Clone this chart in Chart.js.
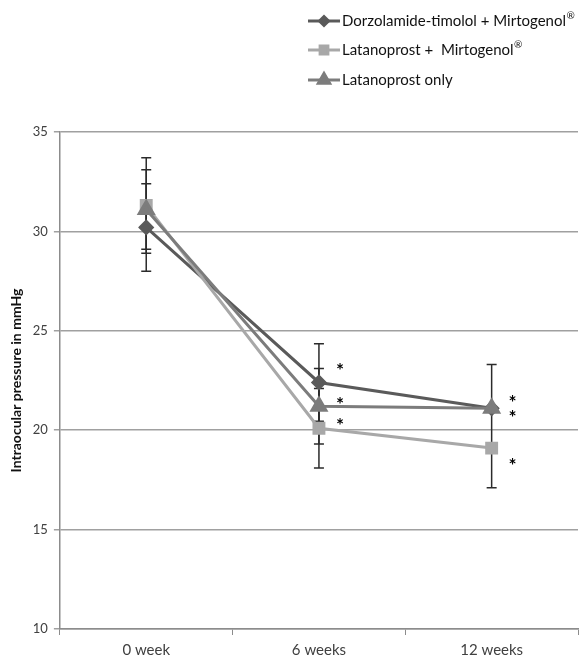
<!DOCTYPE html>
<html>
<head>
<meta charset="utf-8">
<script src="https://cdn.jsdelivr.net/npm/chart.js@4"></script>
<style>
  html, body { margin: 0; padding: 0; background: #fff; overflow: hidden; }
  canvas { display: block; }
</style>
</head>
<body>
<canvas id="iop-chart" width="579" height="655"></canvas>
<script>
// Data
const weeks = ['0 week', '6 weeks', '12 weeks'];

const dorzMean = [30.2, 22.4, 21.1];
const dorzErrUp = [2.2, 1.95, 2.2];
const dorzErrDown = [2.2, 1.95, null];

const latMirtMean = [31.3, 20.1, 19.1];
const latMirtErrUp = [2.4, 2.0, 2.0];
const latMirtErrDown = [2.4, 2.0, 2.0];

const latOnlyMean = [31.1, 21.2, 21.1];
const latOnlyErrUp = [2.0, 1.9, null];
const latOnlyErrDown = [2.0, 1.9, null];

// where the significance asterisks sit (value units), null = none
const dorzStar = [null, 23.2, 21.6];
const latMirtStar = [null, 20.4, 18.4];
const latOnlyStar = [null, 21.5, 20.8];

const yMin = 10, yMax = 35, yStep = 5;

const FONT = 'Lato, "Open Sans", sans-serif';

// Error bars drawn under the lines
const errorBarPlugin = {
  id: 'errorBars',
  beforeDatasetsDraw(chart) {
    const ctx = chart.ctx;
    const x = chart.scales.x, y = chart.scales.y;
    ctx.save();
    ctx.strokeStyle = '#2b2b2b';
    ctx.lineWidth = 1.5;
    chart.data.datasets.forEach(ds => {
      ds.data.forEach((v, i) => {
        const px = x.getPixelForValue(i);
        const ends = [ds.errUp[i] != null ? v + ds.errUp[i] : null,
                      ds.errDown[i] != null ? v - ds.errDown[i] : null];
        ends.forEach(end => {
          if (end == null) return;
          const py = y.getPixelForValue(end);
          ctx.beginPath();
          ctx.moveTo(px, y.getPixelForValue(v));
          ctx.lineTo(px, py);
          ctx.moveTo(px - 5, py);
          ctx.lineTo(px + 5, py);
          ctx.stroke();
        });
      });
    });
    ctx.restore();
  }
};

// Asterisks next to the points
const starPlugin = {
  id: 'stars',
  afterDatasetsDraw(chart) {
    const ctx = chart.ctx;
    const x = chart.scales.x, y = chart.scales.y;
    ctx.save();
    ctx.fillStyle = '#000';
    ctx.font = 'bold 19px ' + FONT;
    ctx.textAlign = 'center';
    ctx.textBaseline = 'middle';
    chart.data.datasets.forEach(ds => {
      ds.stars.forEach((s, i) => {
        if (s == null) return;
        ctx.fillText('*', x.getPixelForValue(i) + 21, y.getPixelForValue(s) + 4);
      });
    });
    ctx.restore();
  }
};

// Legend stacked in the top right corner, ® drawn as superscript
const legendPlugin = {
  id: 'stackedLegend',
  afterDraw(chart) {
    const ctx = chart.ctx;
    const lx = 308, rowY = [21, 50, 80];
    ctx.save();
    chart.data.datasets.forEach((ds, i) => {
      const yy = rowY[i];
      ctx.strokeStyle = ds.borderColor;
      ctx.lineWidth = 3;
      ctx.beginPath();
      ctx.moveTo(lx, yy);
      ctx.lineTo(lx + 32, yy);
      ctx.stroke();
      ctx.fillStyle = ds.borderColor;
      Chart.helpers.drawPoint(ctx, {
        pointStyle: ds.pointStyle,
        radius: ds.pointRadius - 1.5,
        rotation: 0,
        borderWidth: 1
      }, lx + 16, yy);

      ctx.fillStyle = '#111';
      ctx.textAlign = 'left';
      ctx.textBaseline = 'middle';
      const parts = ds.label.split('®');
      let tx = lx + 34;
      parts.forEach((p, k) => {
        ctx.font = '15px ' + FONT;
        ctx.fillText(p, tx, yy);
        tx += ctx.measureText(p).width;
        if (k < parts.length - 1) {
          ctx.font = '10px ' + FONT;
          ctx.fillText('®', tx + 0.5, yy - 5);
          tx += ctx.measureText('®').width + 1;
        }
      });
    });
    ctx.restore();
  }
};

new Chart(document.getElementById('iop-chart'), {
  type: 'line',
  data: {
    labels: weeks,
    datasets: [
      {
        label: 'Dorzolamide-timolol + Mirtogenol®',
        data: dorzMean, errUp: dorzErrUp, errDown: dorzErrDown, stars: dorzStar,
        borderColor: '#5a5a5a', backgroundColor: '#5a5a5a',
        pointStyle: 'rectRot', pointRadius: 6, borderWidth: 3,
        order: 2
      },
      {
        label: 'Latanoprost +  Mirtogenol®',
        data: latMirtMean, errUp: latMirtErrUp, errDown: latMirtErrDown, stars: latMirtStar,
        borderColor: '#a8a8a8', backgroundColor: '#a8a8a8',
        pointStyle: 'rect', pointRadius: 7, borderWidth: 3,
        order: 1
      },
      {
        label: 'Latanoprost only',
        data: latOnlyMean, errUp: latOnlyErrUp, errDown: latOnlyErrDown, stars: latOnlyStar,
        borderColor: '#7c7c7c', backgroundColor: '#7c7c7c',
        pointStyle: 'triangle', pointRadius: 8, borderWidth: 3,
        order: 0
      }
    ]
  },
  options: {
    responsive: false,
    animation: false,
    layout: { autoPadding: false, padding: { top: 132, right: 1, left: 2, bottom: -10 } },
    plugins: {
      legend: { display: false },
      tooltip: { enabled: false }
    },
    elements: { line: { tension: 0 } },
    scales: {
      x: {
        offset: true,
        grid: { offset: true, drawOnChartArea: false, tickLength: 6, color: '#8c8c8c' },
        border: { color: '#8c8c8c', width: 1.5 },
        ticks: { color: '#404040', font: { family: FONT, size: 15 }, padding: 6 }
      },
      y: {
        min: yMin, max: yMax,
        ticks: { stepSize: yStep, color: '#404040', font: { family: FONT, size: 13 }, padding: 6 },
        grid: { color: '#a0a0a0', lineWidth: 1.5, tickLength: 6 },
        border: { color: '#8c8c8c', width: 1.5 },
        title: {
          display: true, text: 'Intraocular pressure in mmHg',
          color: '#111', font: { family: FONT, size: 14, weight: 'bold' },
          padding: { top: 6, bottom: 2 }
        }
      }
    }
  },
  plugins: [errorBarPlugin, starPlugin, legendPlugin]
});
</script>
</body>
</html>
